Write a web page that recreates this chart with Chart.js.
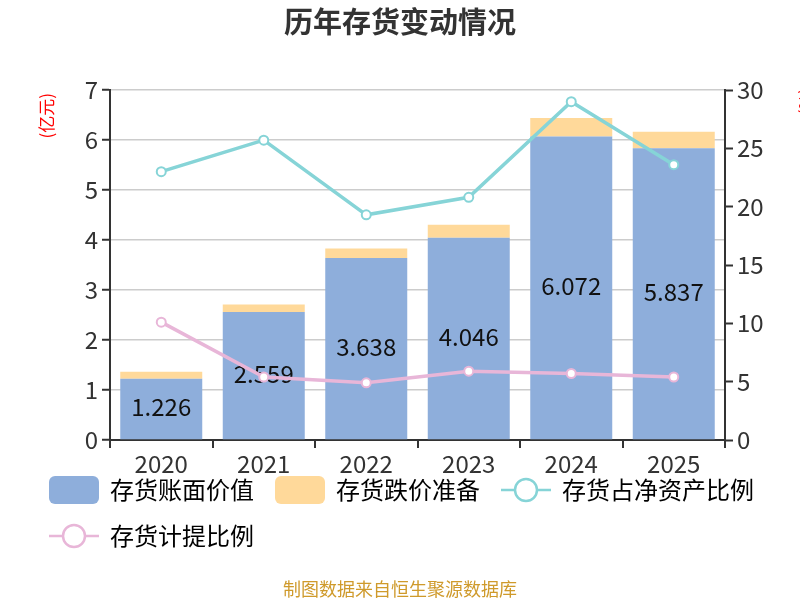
<!DOCTYPE html>
<html>
<head>
<meta charset="utf-8">
<title>历年存货变动情况</title>
<script src="https://cdn.jsdelivr.net/npm/chart.js@4.4.1/dist/chart.umd.min.js"></script>
<style>
  html, body { margin: 0; padding: 0; background: #fff; }
  #wrap { width: 800px; height: 600px; }
</style>
</head>
<body>
<div id="wrap"><canvas id="chart" width="800" height="600"></canvas></div>
<script>
/* data */
const years          = ['2020', '2021', '2022', '2023', '2024', '2025'];
const bookValue      = [1.226, 2.559, 3.638, 4.046, 6.072, 5.837];   // 亿元
const impairment     = [0.14, 0.15, 0.19, 0.26, 0.37, 0.33];         // 亿元
const invToNetAssets = [23.0, 25.7, 19.3, 20.8, 29.0, 23.6];         // %
const provisionRatio = [10.1, 5.4, 4.9, 5.9, 5.7, 5.4];              // %
const leftTicks  = [0, 1, 2, 3, 4, 5, 6, 7];
const rightTicks = [0, 5, 10, 15, 20, 25, 30];

const FONT = "'Noto Sans CJK SC', 'Noto Sans', sans-serif";
const C_BLUE = '#8eaedb', C_ORANGE = '#ffd99a', C_CYAN = '#86d4d7', C_PINK = '#e8b6d8';

/* legend icons as small canvases */
function boxIcon(color) {
    const cv = document.createElement('canvas');
    cv.width = 50; cv.height = 28;
    const ctx = cv.getContext('2d');
    ctx.fillStyle = color;
    ctx.beginPath();
    ctx.roundRect(0, 0, 50, 28, 6);
    ctx.fill();
    return cv;
}
function lineIcon(color) {
    const cv = document.createElement('canvas');
    cv.width = 50; cv.height = 28;
    const ctx = cv.getContext('2d');
    ctx.strokeStyle = color;
    ctx.lineWidth = 2.5;
    ctx.beginPath();
    ctx.moveTo(0, 14); ctx.lineTo(50, 14);
    ctx.stroke();
    ctx.fillStyle = '#fff';
    ctx.beginPath();
    ctx.arc(25, 14, 11, 0, Math.PI * 2);
    ctx.fill();
    ctx.stroke();
    return cv;
}

/* value labels in the middle of the blue bars, drawn before the lines */
const barLabels = {
    id: 'barLabels',
    afterDatasetDraw(chart, args) {
        if (args.index !== 0) return;
        const ctx = chart.ctx;
        ctx.save();
        ctx.font = '24px ' + FONT;
        ctx.fillStyle = '#111';
        ctx.textAlign = 'center';
        ctx.textBaseline = 'middle';
        args.meta.data.forEach((bar, i) => {
            ctx.fillText(bookValue[i].toFixed(3), bar.x, (bar.y + bar.base) / 2 - 2);
        });
        ctx.restore();
    }
};

/* let x tick labels spill below the (short) x axis box */
const xLabelRoom = {
    id: 'xLabelRoom',
    afterLayout(chart) {
        const x = chart.scales.x;
        x.bottom = x.top + 50;
    }
};

/* title, axis units and source note */
const extraText = {
    id: 'extraText',
    afterDraw(chart) {
        const ctx = chart.ctx;
        const top = chart.chartArea.top;
        ctx.save();
        ctx.textBaseline = 'middle';

        ctx.fillStyle = '#333';
        ctx.font = 'bold 29px ' + FONT;
        ctx.textAlign = 'center';
        ctx.fillText('历年存货变动情况', 400, 22);

        ctx.fillStyle = '#ff0000';
        ctx.font = '17px ' + FONT;
        ctx.textAlign = 'right';
        ctx.save();
        ctx.translate(47, top + 3);
        ctx.rotate(-Math.PI / 2);
        ctx.fillText('(亿元)', 0, 0);
        ctx.restore();
        ctx.save();
        ctx.translate(806, top - 2);
        ctx.rotate(-Math.PI / 2);
        ctx.fillText('(%)', 0, 0);
        ctx.restore();

        ctx.fillStyle = '#cf9a2b';
        ctx.font = '18px ' + FONT;
        ctx.textAlign = 'center';
        ctx.fillText('制图数据来自恒生聚源数据库', 400, 589);
        ctx.restore();
    }
};

const legendIcons = [boxIcon(C_BLUE), boxIcon(C_ORANGE), lineIcon(C_CYAN), lineIcon(C_PINK)];

new Chart(document.getElementById('chart'), {
    data: {
        labels: years,
        datasets: [
            { type: 'bar', label: '存货账面价值', data: bookValue, backgroundColor: C_BLUE,
              yAxisID: 'y', stack: 's', order: 3 },
            { type: 'bar', label: '存货跌价准备', data: impairment, backgroundColor: C_ORANGE,
              yAxisID: 'y', stack: 's', order: 3 },
            { type: 'line', label: '存货占净资产比例', data: invToNetAssets, borderColor: C_CYAN,
              borderWidth: 3.5, pointRadius: 4.5, pointBorderWidth: 2, pointBackgroundColor: '#fff',
              pointBorderColor: C_CYAN, yAxisID: 'y1', order: 2 },
            { type: 'line', label: '存货计提比例', data: provisionRatio, borderColor: C_PINK,
              borderWidth: 3.5, pointRadius: 4.5, pointBorderWidth: 2, pointBackgroundColor: '#fff',
              pointBorderColor: C_PINK, yAxisID: 'y1', order: 1 }
        ]
    },
    options: {
        responsive: false,
        animation: false,
        maintainAspectRatio: false,
        devicePixelRatio: 1,
        layout: { padding: { left: 28, right: 0, top: 90, bottom: 42 } },
        datasets: { bar: { categoryPercentage: 0.8, barPercentage: 1 } },
        plugins: {
            title: { display: false },
            legend: {
                position: 'bottom',
                align: 'start',
                labels: {
                    usePointStyle: true,
                    pointStyleWidth: 48,
                    padding: 22,
                    color: '#333',
                    font: { family: FONT, size: 24 },
                    generateLabels: (chart) => chart.data.datasets.map((ds, i) => ({
                        text: ds.label,
                        pointStyle: legendIcons[i],
                        fillStyle: ds.backgroundColor,
                        strokeStyle: ds.borderColor,
                        lineWidth: 1,
                        datasetIndex: i,
                        hidden: false
                    }))
                }
            },
            tooltip: { enabled: false }
        },
        scales: {
            x: {
                stacked: true,
                grid: { offset: true, drawOnChartArea: false, drawTicks: true, tickLength: 8,
                        color: '#333', lineWidth: 2 },
                border: { color: '#333', width: 2 },
                ticks: { color: '#333', font: { family: FONT, size: 24 }, padding: 1, maxRotation: 0 },
                afterFit: (s) => { s.height = 16; }
            },
            y: {
                position: 'left',
                stacked: true,
                min: 0, max: 7,
                afterBuildTicks: (s) => { s.ticks = leftTicks.map(v => ({ value: v })); },
                grid: { color: '#cccccc', lineWidth: 1.5, tickLength: 8, tickColor: '#333', tickWidth: 2 },
                border: { color: '#333', width: 2 },
                ticks: { color: '#333', font: { family: FONT, size: 24 }, padding: 4 },
                afterFit: (s) => { s.width = 82; }
            },
            y1: {
                position: 'right',
                min: 0, max: 30,
                afterBuildTicks: (s) => { s.ticks = rightTicks.map(v => ({ value: v })); },
                grid: { drawOnChartArea: false, tickLength: 8, tickColor: '#333', tickWidth: 2 },
                border: { color: '#333', width: 2 },
                ticks: { color: '#333', font: { family: FONT, size: 24 }, padding: 4 },
                afterFit: (s) => { s.width = 75; }
            }
        }
    },
    plugins: [barLabels, xLabelRoom, extraText]
});
</script>
</body>
</html>
